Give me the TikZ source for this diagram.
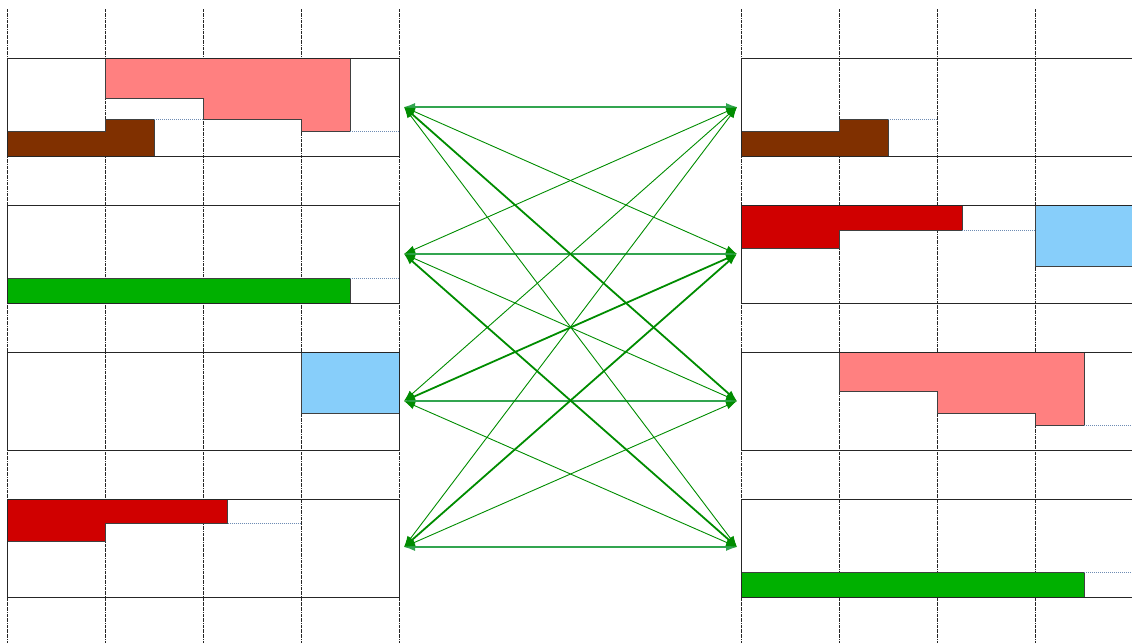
\documentclass[tikz,border=0pt]{standalone}
\usetikzlibrary{arrows.meta}
\definecolor{pinkf}{RGB}{255,128,128}
\definecolor{brownf}{RGB}{128,48,0}
\definecolor{redf}{RGB}{208,0,0}
\definecolor{greenf}{RGB}{0,176,0}
\definecolor{bluef}{RGB}{135,206,250}
\definecolor{arrowc}{RGB}{0,140,0}
\definecolor{arrowh}{RGB}{50,165,80}
\definecolor{dotc}{RGB}{110,140,180}
\begin{document}
\begin{tikzpicture}[x=1pt,y=-1pt,
 gridline/.style={densely dashdotted, line width=0.8pt, black!85},
 frame/.style={draw=black!85, line width=1.2pt, minimum width=392pt, minimum height=98pt, inner sep=0pt, anchor=north west},
 piece/.style={draw=black!75, line width=1pt},
 trail/.style={draw=dotc, densely dotted, line width=1pt},
 link/.style={draw=arrowc, line width=0.9pt, {Latex[length=11pt,width=8pt]}-{Latex[length=11pt,width=8pt]}},
 strong/.style={link, line width=1.8pt},
 flat/.style={link, draw=arrowh, line width=1.3pt},
]
\useasboundingbox (0,0) rectangle (1132,643);
% grid
\foreach \x in {7,105,203,301,399,741,839,937,1035}
  \draw[gridline] (\x,9) -- (\x,643);
% left box 1
\fill[pinkf] (105,58) -- (350,58) -- (350,131.5) -- (301,131.5) -- (301,119.5) -- (203,119.5) -- (203,98.5) -- (105,98.5) -- cycle;
\draw[piece] (105,58) -- (105,98.5) -- (203,98.5) -- (203,119.5) -- (301,119.5) -- (301,131.5) -- (350,131.5) -- (350,58);
\draw[piece, fill=brownf] (7,131.5) -- (105,131.5) -- (105,119.5) -- (154,119.5) -- (154,156) -- (7,156) -- cycle;
\draw[trail] (154,119.5) -- (203,119.5);
\draw[trail] (350,131.5) -- (399,131.5);
% left box 2
\draw[piece, fill=greenf] (7,278) rectangle (350,303);
\draw[trail] (350,278) -- (399,278);
% left box 3
\draw[piece, fill=bluef] (301,352) rectangle (399,413);
% left box 4
\draw[piece, fill=redf] (7,499) -- (227.5,499) -- (227.5,523.5) -- (105,523.5) -- (105,541.5) -- (7,541.5) -- cycle;
\draw[trail] (227.5,523.5) -- (301,523.5);
% right box 1
\draw[piece, fill=brownf] (741,131.5) -- (839,131.5) -- (839,119.5) -- (888,119.5) -- (888,156) -- (741,156) -- cycle;
\draw[trail] (888,119.5) -- (937,119.5);
% right box 2
\draw[piece, fill=redf] (741,205) -- (962,205) -- (962,230) -- (839,230) -- (839,248.5) -- (741,248.5) -- cycle;
\draw[trail] (962,230) -- (1035,230);
\draw[piece, fill=bluef] (1035,205) rectangle (1140,266);
% right box 3
\fill[pinkf] (839,352) -- (1084,352) -- (1084,425.5) -- (1035,425.5) -- (1035,413) -- (937,413) -- (937,391.5) -- (839,391.5) -- cycle;
\draw[piece] (839,352) -- (839,391.5) -- (937,391.5) -- (937,413) -- (1035,413) -- (1035,425.5) -- (1084,425.5) -- (1084,352);
\draw[trail] (1084,425.5) -- (1132,425.5);
% right box 4
\draw[piece, fill=greenf] (741,572) rectangle (1084,597);
\draw[trail] (1084,572) -- (1132,572);
% frames
\node[frame] (lb1) at (7,58) {};
\node[frame] (lb2) at (7,205) {};
\node[frame] (lb3) at (7,352) {};
\node[frame] (lb4) at (7,499) {};
\node[frame] (rb1) at (741,58) {};
\node[frame] (rb2) at (741,205) {};
\node[frame] (rb3) at (741,352) {};
\node[frame] (rb4) at (741,499) {};
% link ends
\coordinate (L1) at (404,107);
\coordinate (L2) at (404,254);
\coordinate (L3) at (404,401);
\coordinate (L4) at (404,547);
\coordinate (R1) at (737,107);
\coordinate (R2) at (737,254);
\coordinate (R3) at (737,401);
\coordinate (R4) at (737,547);
% links
\draw[flat] (L1) -- (R1);
\draw[flat] (L2) -- (R2);
\draw[flat] (L3) -- (R3);
\draw[flat] (L4) -- (R4);
\draw[link] (L1) -- (R2);
\draw[link] (L1) -- (R4);
\draw[link] (L2) -- (R1);
\draw[link] (L2) -- (R3);
\draw[link] (L3) -- (R1);
\draw[link] (L3) -- (R4);
\draw[link] (L4) -- (R1);
\draw[link] (L4) -- (R3);
\draw[strong] (L1) -- (R3);
\draw[strong] (L2) -- (R4);
\draw[strong] (L3) -- (R2);
\draw[strong] (L4) -- (R2);
\end{tikzpicture}
\end{document}
